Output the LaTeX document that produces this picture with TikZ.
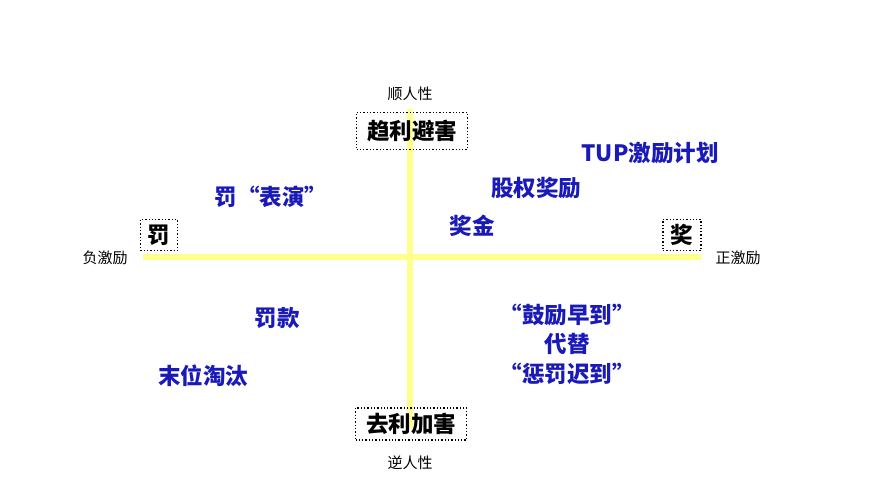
\documentclass[tikz,border=0pt]{standalone}
\usepackage{fontspec}
\setmainfont{Noto Sans CJK SC}
\definecolor{axisyellow}{HTML}{FFFF8C}
\definecolor{ideablue}{HTML}{1A1AB8}
\begin{document}
\begin{tikzpicture}[x=1pt,y=-1pt,
    tag/.style={draw,dotted,line width=1.3pt,inner sep=0pt,
      font=\bfseries\fontsize{22.5}{22.5}\selectfont},
    idea/.style={text=ideablue,align=center,
      font=\bfseries\fontsize{22.5}{29.5}\selectfont},
    side/.style={font=\fontsize{15}{15}\selectfont}]
  \useasboundingbox (0,0) rectangle (888,500);
  \coordinate (top) at (410,109);
  \coordinate (bottom) at (410,428);
  \coordinate (left) at (143,257);
  \coordinate (right) at (701,257);
  \begin{scope}[-,line width=6pt,axisyellow]
    \draw (top) to (bottom);
    \draw (left) to (right);
  \end{scope}
  \draw
    (410,94) node[side] (up){顺人性}
    (410,463) node[side] (down){逆人性}
    (105,258) node[side] (neg){负激励}
    (738,258) node[side] (pos){正激励}
    (412,131) node[tag,minimum width=111,minimum height=37] (gain){趋利避害}
    (411,424) node[tag,minimum width=111,minimum height=32] (harm){去利加害}
    (159,235) node[tag,minimum width=37,minimum height=31] (fine){罚}
    (682,235) node[tag,minimum width=38,minimum height=31] (prize){奖}
    (650,153) node[idea] (tup){TUP激励计划}
    (536,188) node[idea] (equity){股权奖励}
    (472,226) node[idea] (bonus){奖金}
    (271,197) node[idea] (show){罚“表演”}
    (277,318) node[idea] (money){罚款}
    (203,376) node[idea] (last){末位淘汰}
    (567,344) node[idea] (swap){“鼓励早到”\\代替\\“惩罚迟到”};
\end{tikzpicture}
\end{document}
